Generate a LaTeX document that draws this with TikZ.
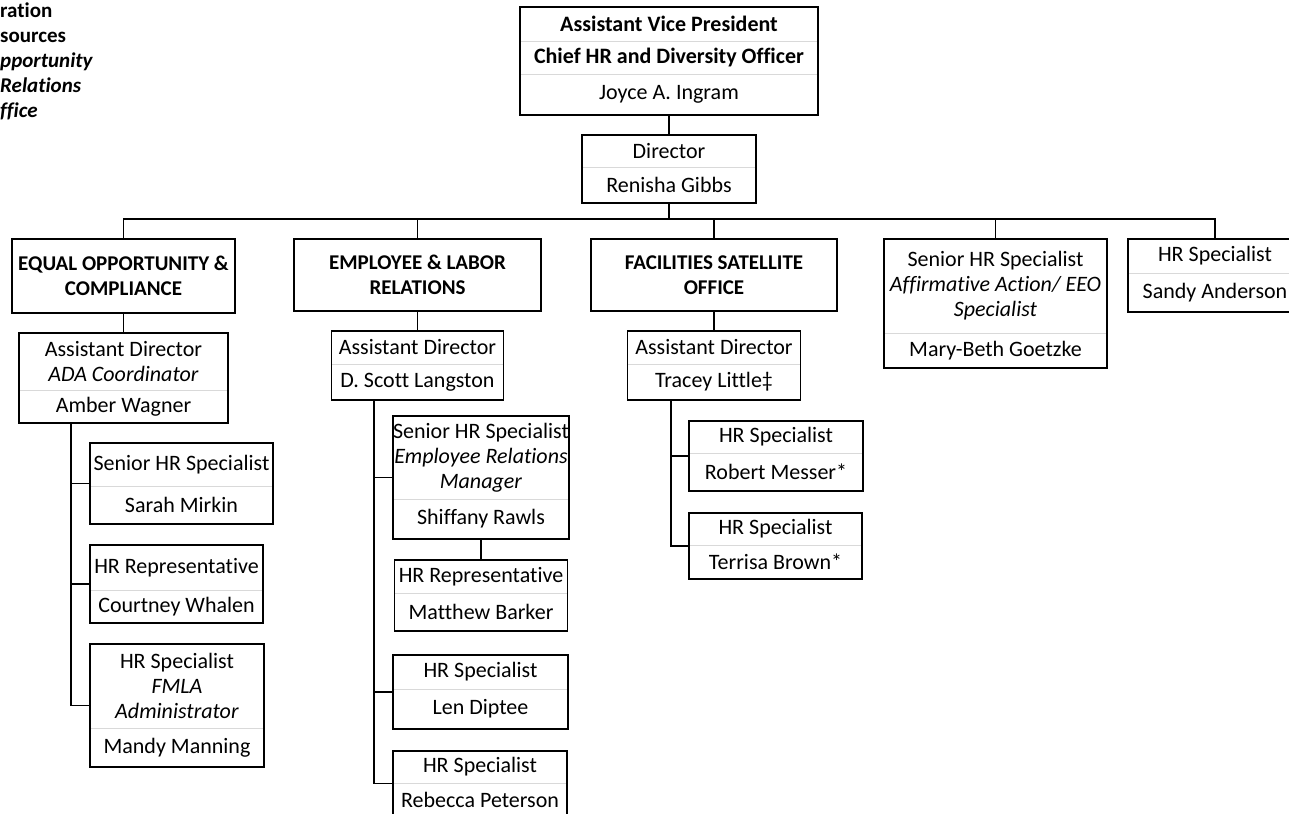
\documentclass[tikz,border=0pt]{standalone}
\usepackage{fontspec}
\setmainfont[Ligatures=NoCommon]{Carlito}
\usetikzlibrary{positioning,fit}

\begin{document}
\begin{tikzpicture}[x=1pt, y=-1pt,
    cell/.style={draw=gray!30, line width=0.8pt, inner sep=0pt, outer sep=0pt,
                 align=center, font=\fontsize{22}{25}\selectfont},
    head/.style={cell, draw=black, line width=1.8pt, anchor=north,
                 font=\fontsize{21}{25}\selectfont\bfseries},
    frame/.style={draw, line width=1.8pt, inner sep=0pt},
    link/.style={line width=1.8pt},
    note/.style={anchor=mid west, inner sep=0pt, font=\fontsize{21}{25}\selectfont\bfseries}
]
\useasboundingbox (0,0) rectangle (1289,813);

% Title lines, cut at the left edge
\node[note] (adm) at (0,15) {ration};
\node[note] (res) at (0,40) {sources};
\node[note] (opp) at (0,65) {\itshape pportunity};
\node[note] (rel) at (0,90) {\itshape Relations};
\node[note] (off) at (0,115) {\itshape ffice};

% Top: AVP and director
\node[cell, minimum width=298, minimum height=34, anchor=north] (avp-a) at (669,7) {\textbf{Assistant Vice President}};
\node[cell, minimum width=298, minimum height=33, below=0pt of avp-a] (avp-b) {\textbf{Chief HR and Diversity Officer}};
\node[cell, minimum width=298, minimum height=41, below=0pt of avp-b] (avp-c) {Joyce A. Ingram};
\node[frame, fit=(avp-a)(avp-c)] (avp) {};

\node[cell, minimum width=174, minimum height=32, anchor=north] (dir-a) at (669,135) {Director};
\node[cell, minimum width=174, minimum height=36, below=0pt of dir-a] (dir-b) {Renisha Gibbs};
\node[frame, fit=(dir-a)(dir-b)] (dir) {};

% Second row: units and staff
\node[head, minimum width=223, minimum height=74] (eoc) at (123.5,239) {EQUAL OPPORTUNITY \&\\COMPLIANCE};
\node[head, minimum width=247, minimum height=72] (elr) at (417.5,239) {EMPLOYEE \& LABOR\\RELATIONS};
\node[head, minimum width=246, minimum height=72] (fso) at (714,239) {FACILITIES SATELLITE\\OFFICE};

\node[cell, minimum width=223, minimum height=94, anchor=north] (aa-a) at (995.5,239) {Senior HR Specialist\\\textit{Affirmative Action/ EEO}\\\textit{Specialist}};
\node[cell, minimum width=223, minimum height=35, below=0pt of aa-a] (aa-b) {Mary-Beth Goetzke};
\node[frame, fit=(aa-a)(aa-b)] (aa) {};

\node[cell, minimum width=174, minimum height=34, anchor=north] (sandy-a) at (1215,239) {HR Specialist};
\node[cell, minimum width=174, minimum height=39, below=0pt of sandy-a] (sandy-b) {Sandy Anderson};
\node[frame, fit=(sandy-a)(sandy-b)] (sandy) {};

% Equal opportunity branch
\node[cell, minimum width=209, minimum height=57, anchor=north] (ada-a) at (123.5,333) {Assistant Director\\\textit{ADA Coordinator}};
\node[cell, minimum width=209, minimum height=33, below=0pt of ada-a] (ada-b) {Amber Wagner};
\node[frame, fit=(ada-a)(ada-b)] (ada) {};

\node[cell, minimum width=183, minimum height=43, anchor=north] (sarah-a) at (181.5,443) {Senior HR Specialist};
\node[cell, minimum width=183, minimum height=38, below=0pt of sarah-a] (sarah-b) {Sarah Mirkin};
\node[frame, fit=(sarah-a)(sarah-b)] (sarah) {};

\node[cell, minimum width=173, minimum height=45, anchor=north] (court-a) at (176.5,545) {HR Representative};
\node[cell, minimum width=173, minimum height=33, below=0pt of court-a] (court-b) {Courtney Whalen};
\node[frame, fit=(court-a)(court-b)] (court) {};

\node[cell, minimum width=174, minimum height=84, anchor=north] (mandy-a) at (177,644) {HR Specialist\\\textit{FMLA}\\\textit{Administrator}};
\node[cell, minimum width=174, minimum height=39, below=0pt of mandy-a] (mandy-b) {Mandy Manning};
\node[frame, fit=(mandy-a)(mandy-b)] (mandy) {};

% Employee relations branch
\node[cell, minimum width=172, minimum height=33, anchor=north] (lang-a) at (417.5,331) {Assistant Director};
\node[cell, minimum width=172, minimum height=36, below=0pt of lang-a] (lang-b) {D. Scott Langston};
\node[frame, fit=(lang-a)(lang-b)] (lang) {};

\node[cell, minimum width=176, minimum height=83, anchor=north] (shif-a) at (481,416) {Senior HR Specialist\\\textit{Employee Relations}\\\textit{Manager}};
\node[cell, minimum width=176, minimum height=40, below=0pt of shif-a] (shif-b) {Shiffany Rawls};
\node[frame, fit=(shif-a)(shif-b)] (shif) {};

\node[cell, minimum width=173, minimum height=33, anchor=north] (matt-a) at (481,560) {HR Representative};
\node[cell, minimum width=173, minimum height=38, below=0pt of matt-a] (matt-b) {Matthew Barker};
\node[frame, fit=(matt-a)(matt-b)] (matt) {};

\node[cell, minimum width=175, minimum height=34, anchor=north] (len-a) at (480.5,655) {HR Specialist};
\node[cell, minimum width=175, minimum height=40, below=0pt of len-a] (len-b) {Len Diptee};
\node[frame, fit=(len-a)(len-b)] (len) {};

\node[cell, minimum width=174, minimum height=32, anchor=north] (reb-a) at (480,751) {HR Specialist};
\node[cell, minimum width=174, minimum height=33, below=0pt of reb-a] (reb-b) {Rebecca Peterson};
\node[frame, fit=(reb-a)(reb-b)] (reb) {};

% Satellite office branch
\node[cell, minimum width=173, minimum height=33, anchor=north] (trac-a) at (714,331) {Assistant Director};
\node[cell, minimum width=173, minimum height=36, below=0pt of trac-a] (trac-b) {Tracey Little‡};
\node[frame, fit=(trac-a)(trac-b)] (trac) {};

\node[cell, minimum width=174, minimum height=32, anchor=north] (rob-a) at (776,421) {HR Specialist};
\node[cell, minimum width=174, minimum height=38, below=0pt of rob-a] (rob-b) {Robert Messer*};
\node[frame, fit=(rob-a)(rob-b)] (rob) {};

\node[cell, minimum width=173, minimum height=32, anchor=north] (ter-a) at (775.5,513) {HR Specialist};
\node[cell, minimum width=173, minimum height=34, below=0pt of ter-a] (ter-b) {Terrisa Brown*};
\node[frame, fit=(ter-a)(ter-b)] (ter) {};

% Connectors
\draw[link] (avp.south) -- (dir.north);
\coordinate (bus) at (669,219);
\draw[link] (dir.south) -- (bus);
\draw[link] (bus) -| (eoc.north);
\draw[link] (bus) -| (elr.north);
\draw[link] (bus) -| (fso.north);
\draw[link] (bus) -| (aa.north);
\draw[link] (bus) -| (sandy.north);

\draw[link] (eoc.south) -- (ada.north);
\coordinate (ada-spine) at (ada.south -| 71,0);
\draw[link] (ada-spine) |- (sarah.west);
\draw[link] (ada-spine) |- (court.west);
\draw[link] (ada-spine) |- (mandy.west);

\draw[link] (elr.south) -- (lang.north);
\coordinate (lang-spine) at (lang.south -| 374,0);
\draw[link] (lang-spine) |- (shif.west);
\draw[link] (lang-spine) |- (len.west);
\draw[link] (lang-spine) |- (reb.west);
\draw[link] (shif.south) -- (matt.north);

\draw[link] (fso.south) -- (trac.north);
\coordinate (trac-spine) at (trac.south -| 671,0);
\draw[link] (trac-spine) |- (rob.west);
\draw[link] (trac-spine) |- (ter.west);

\end{tikzpicture}
\end{document}
